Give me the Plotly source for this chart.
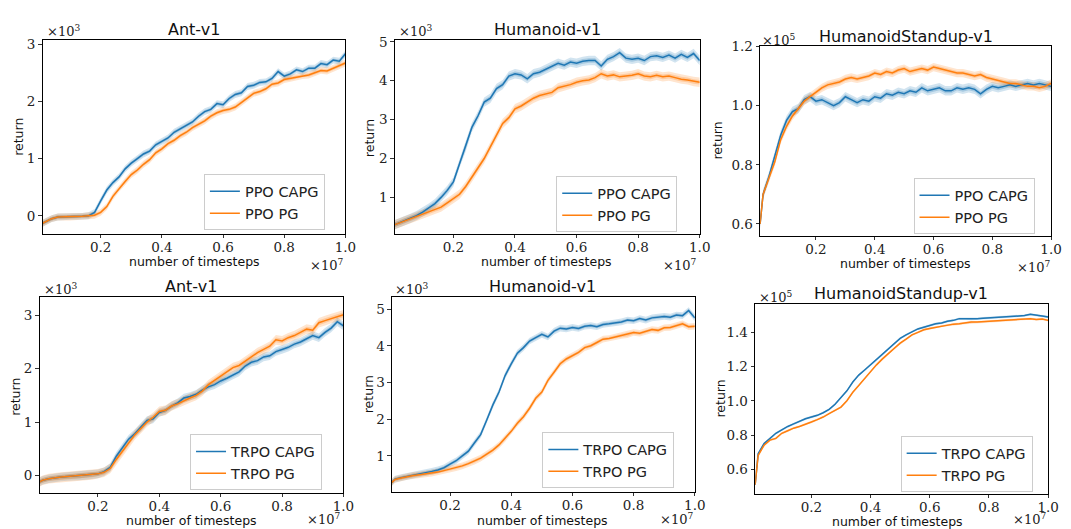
import plotly.graph_objects as go

W, H = 1071, 529

# ---------------- data (timesteps in units of 1e7) ----------------
X = [0.01, 0.02, 0.04, 0.06, 0.08, 0.10, 0.12, 0.14, 0.16, 0.18,
     0.20, 0.22, 0.24, 0.26, 0.28, 0.30, 0.32, 0.34, 0.36, 0.38,
     0.40, 0.42, 0.44, 0.46, 0.48, 0.50, 0.52, 0.54, 0.56, 0.58,
     0.60, 0.62, 0.64, 0.66, 0.68, 0.70, 0.72, 0.74, 0.76, 0.78,
     0.80, 0.82, 0.84, 0.86, 0.88, 0.90, 0.92, 0.94, 0.96, 0.98, 1.00]

# Ant-v1 PPO (x1e3)
ant_ppo_capg = [-0.13, -0.10, -0.05, -0.02, -0.02, -0.01, -0.01, -0.01, 0.00, 0.06,
                0.26, 0.45, 0.58, 0.68, 0.82, 0.92, 1.00, 1.08, 1.13, 1.24,
                1.30, 1.36, 1.46, 1.52, 1.58, 1.64, 1.74, 1.82, 1.86, 1.96,
                1.94, 2.05, 2.12, 2.15, 2.26, 2.28, 2.33, 2.34, 2.40, 2.52,
                2.44, 2.48, 2.55, 2.52, 2.58, 2.58, 2.66, 2.64, 2.72, 2.70, 2.83]
ant_ppo_pg = [-0.13, -0.10, -0.05, -0.02, -0.02, -0.02, -0.01, -0.01, 0.00, 0.01,
              0.06, 0.16, 0.34, 0.48, 0.60, 0.72, 0.80, 0.90, 0.98, 1.10,
              1.17, 1.26, 1.32, 1.40, 1.46, 1.54, 1.60, 1.66, 1.74, 1.80,
              1.84, 1.86, 1.90, 1.98, 2.06, 2.14, 2.17, 2.22, 2.30, 2.32,
              2.38, 2.40, 2.42, 2.45, 2.46, 2.50, 2.54, 2.53, 2.58, 2.62, 2.67]

# Humanoid-v1 PPO (x1e3)
hum_ppo_capg = [0.30, 0.33, 0.40, 0.46, 0.53, 0.62, 0.72, 0.84, 1.00, 1.18,
                1.40, 1.88, 2.30, 2.80, 3.10, 3.45, 3.55, 3.80, 3.90, 4.12,
                4.18, 4.15, 4.05, 4.18, 4.22, 4.30, 4.38, 4.45, 4.40, 4.48,
                4.45, 4.50, 4.52, 4.52, 4.38, 4.55, 4.62, 4.72, 4.58, 4.55,
                4.58, 4.52, 4.62, 4.64, 4.60, 4.66, 4.58, 4.68, 4.60, 4.70, 4.52]
hum_ppo_pg = [0.30, 0.33, 0.38, 0.44, 0.50, 0.57, 0.63, 0.69, 0.75, 0.86,
              0.97, 1.08, 1.28, 1.52, 1.76, 2.00, 2.30, 2.60, 2.90, 3.05,
              3.28, 3.35, 3.45, 3.55, 3.62, 3.66, 3.70, 3.82, 3.86, 3.90,
              3.96, 4.00, 4.02, 4.08, 4.18, 4.12, 4.15, 4.10, 4.12, 4.14,
              4.18, 4.12, 4.10, 4.14, 4.10, 4.12, 4.08, 4.04, 4.02, 3.98, 3.96]

# HumanoidStandup-v1 PPO (x1e5)
hs_ppo_capg = [0.60, 0.70, 0.76, 0.83, 0.90, 0.95, 0.98, 0.99, 1.02, 1.03,
               1.015, 1.02, 1.01, 1.00, 1.01, 1.03, 1.02, 1.01, 1.02, 1.015,
               1.03, 1.025, 1.04, 1.035, 1.045, 1.04, 1.05, 1.045, 1.06, 1.05,
               1.055, 1.06, 1.05, 1.05, 1.06, 1.055, 1.06, 1.055, 1.04, 1.055,
               1.065, 1.06, 1.065, 1.07, 1.065, 1.07, 1.075, 1.07, 1.075, 1.07, 1.065]
hs_ppo_pg = [0.60, 0.70, 0.755, 0.81, 0.885, 0.93, 0.965, 0.99, 1.015, 1.03,
             1.045, 1.06, 1.07, 1.075, 1.08, 1.09, 1.095, 1.09, 1.095, 1.10,
             1.11, 1.105, 1.115, 1.11, 1.12, 1.125, 1.115, 1.12, 1.125, 1.12,
             1.13, 1.125, 1.12, 1.115, 1.11, 1.11, 1.105, 1.10, 1.105, 1.095,
             1.09, 1.085, 1.08, 1.075, 1.075, 1.07, 1.065, 1.065, 1.06, 1.065, 1.075]

# Ant-v1 TRPO (x1e3)
ant_trpo_capg = [-0.12, -0.09, -0.06, -0.04, -0.03, -0.02, -0.01, -0.01, 0.00, 0.01,
                 0.03, 0.07, 0.15, 0.36, 0.52, 0.68, 0.78, 0.90, 1.03, 1.06,
                 1.18, 1.22, 1.30, 1.36, 1.45, 1.48, 1.52, 1.60, 1.66, 1.70,
                 1.77, 1.82, 1.88, 1.94, 2.05, 2.12, 2.15, 2.22, 2.24, 2.32,
                 2.36, 2.40, 2.46, 2.50, 2.56, 2.62, 2.58, 2.68, 2.76, 2.88, 2.80]
ant_trpo_pg = [-0.12, -0.09, -0.06, -0.04, -0.03, -0.02, -0.01, -0.01, 0.00, 0.01,
               0.03, 0.06, 0.13, 0.30, 0.45, 0.60, 0.76, 0.88, 1.00, 1.09,
               1.20, 1.22, 1.30, 1.34, 1.40, 1.45, 1.50, 1.58, 1.70, 1.78,
               1.86, 1.95, 2.02, 2.06, 2.14, 2.22, 2.30, 2.36, 2.42, 2.54,
               2.52, 2.58, 2.62, 2.68, 2.74, 2.72, 2.86, 2.90, 2.94, 2.98, 3.01]

# Humanoid-v1 TRPO (x1e3)
hum_trpo_capg = [0.28, 0.37, 0.41, 0.44, 0.48, 0.51, 0.54, 0.58, 0.62, 0.68,
                 0.78, 0.87, 1.00, 1.13, 1.36, 1.58, 1.98, 2.39, 2.74, 3.19,
                 3.51, 3.80, 3.95, 4.13, 4.22, 4.31, 4.24, 4.40, 4.48, 4.46,
                 4.50, 4.47, 4.53, 4.55, 4.52, 4.58, 4.60, 4.62, 4.65, 4.70,
                 4.68, 4.74, 4.70, 4.76, 4.78, 4.80, 4.78, 4.84, 4.82, 4.96, 4.76]
hum_trpo_pg = [0.28, 0.36, 0.40, 0.44, 0.47, 0.49, 0.51, 0.53, 0.56, 0.60,
               0.64, 0.68, 0.73, 0.79, 0.86, 0.94, 1.05, 1.16, 1.30, 1.48,
               1.67, 1.89, 2.07, 2.30, 2.57, 2.74, 3.06, 3.28, 3.51, 3.64,
               3.73, 3.82, 3.95, 4.00, 4.09, 4.18, 4.20, 4.24, 4.28, 4.30,
               4.36, 4.34, 4.40, 4.44, 4.42, 4.49, 4.50, 4.54, 4.60, 4.52, 4.53]

# HumanoidStandup-v1 TRPO (x1e5)
hs_trpo_capg = [0.51, 0.69, 0.75, 0.78, 0.81, 0.83, 0.85, 0.865, 0.88, 0.895,
                0.905, 0.915, 0.93, 0.95, 0.98, 1.02, 1.058, 1.11, 1.15, 1.18,
                1.21, 1.24, 1.27, 1.30, 1.335, 1.365, 1.385, 1.405, 1.42, 1.43,
                1.44, 1.45, 1.455, 1.465, 1.47, 1.48, 1.48, 1.478, 1.48, 1.482,
                1.484, 1.485, 1.49, 1.49, 1.492, 1.496, 1.498, 1.505, 1.502, 1.495, 1.49]
hs_trpo_pg = [0.51, 0.68, 0.74, 0.77, 0.78, 0.81, 0.825, 0.84, 0.85, 0.865,
              0.876, 0.89, 0.905, 0.925, 0.945, 0.963, 1.00, 1.05, 1.09, 1.13,
              1.174, 1.21, 1.245, 1.275, 1.31, 1.337, 1.36, 1.385, 1.40, 1.415,
              1.423, 1.43, 1.438, 1.442, 1.448, 1.45, 1.455, 1.46, 1.46, 1.462,
              1.465, 1.467, 1.47, 1.472, 1.474, 1.475, 1.478, 1.48, 1.475, 1.478, 1.47]

# shaded spread (half width) per series
SPREAD = {
    "ant_ppo": (0.06, 0.06), "hum_ppo": (0.12, 0.12), "hs_ppo": (0.016, 0.014),
    "ant_trpo": (0.08, 0.09), "hum_trpo": (0.09, 0.09), "hs_trpo": (0.007, 0.007),
}

TITLES = ["Ant-v1", "Humanoid-v1", "HumanoidStandup-v1",
          "Ant-v1", "Humanoid-v1", "HumanoidStandup-v1"]
X_TICKS = [0.2, 0.4, 0.6, 0.8, 1.0]

# ---------------- layout helpers ----------------
def px(x):
    return x / W

def py(y):
    return 1 - y / H

BLUE = "#1f77b4"
ORANGE = "#ff7f0e"
BLUE_RGB = "31,119,180"
ORANGE_RGB = "255,127,14"
TICK_FONT = dict(family="DejaVu Serif", size=13.5, color="#222222")
SANS = "DejaVu Sans"

panels = [
    dict(key="ant_ppo", capg=ant_ppo_capg, pg=ant_ppo_pg, algo="PPO",
         box=(43, 32, 349, 229), yr=[-0.31, 3.08], yt=[0, 1, 2, 3], yf="d", exp="3",
         title_xy=(196, 22), ylab_xy=(18, 131), xlab_xy=(197, 257),
         yexp_xy=(45, 23), xexp_xy=(349, 261), leg_xy=(206, 169)),
    dict(key="hum_ppo", capg=hum_ppo_capg, pg=hum_ppo_pg, algo="PPO",
         box=(399, 32, 707, 229), yr=[0.07, 5.06], yt=[1, 2, 3, 4, 5], yf="d", exp="3",
         title_xy=(553, 22), ylab_xy=(373, 132), xlab_xy=(552, 257),
         yexp_xy=(401, 23), xexp_xy=(705, 261), leg_xy=(562, 171)),
    dict(key="hs_ppo", capg=hs_ppo_capg, pg=hs_ppo_pg, algo="PPO",
         box=(768, 39, 1062, 231), yr=[0.561, 1.2], yt=[0.6, 0.8, 1.0, 1.2], yf=".1f", exp="5",
         title_xy=(915, 29), ylab_xy=(725, 135), xlab_xy=(915, 259),
         yexp_xy=(768, 32), xexp_xy=(1063, 263), leg_xy=(923, 173)),
    dict(key="ant_trpo", capg=ant_trpo_capg, pg=ant_trpo_pg, algo="TRPO",
         box=(40, 293, 347, 492), yr=[-0.32, 3.35], yt=[0, 1, 2, 3], yf="d", exp="3",
         title_xy=(193, 283), ylab_xy=(15, 395), xlab_xy=(193, 520),
         yexp_xy=(42, 285), xexp_xy=(346, 529), leg_xy=(192, 433)),
    dict(key="hum_trpo", capg=hum_trpo_capg, pg=hum_trpo_pg, algo="TRPO",
         box=(396, 293, 702, 491), yr=[0.03, 5.34], yt=[1, 2, 3, 4, 5], yf="d", exp="3",
         title_xy=(548, 283), ylab_xy=(372, 392), xlab_xy=(548, 520),
         yexp_xy=(397, 285), xexp_xy=(702, 529), leg_xy=(548, 431)),
    dict(key="hs_trpo", capg=hs_trpo_capg, pg=hs_trpo_pg, algo="TRPO",
         box=(763, 301, 1059, 493), yr=[0.458, 1.563], yt=[0.6, 0.8, 1.0, 1.2, 1.4], yf=".1f", exp="5",
         title_xy=(910, 290), ylab_xy=(728, 397), xlab_xy=(907, 521),
         yexp_xy=(765, 293), xexp_xy=(1059, 529), leg_xy=(910, 435)),
]

fig = go.Figure()
layout = {}
annotations = []


def band(xs, ys, s, rgb, alpha, xa, ya):
    upper = [v + s for v in ys]
    lower = [v - s for v in ys]
    return go.Scatter(x=xs + xs[::-1], y=upper + lower[::-1], fill="toself",
                      fillcolor=f"rgba({rgb},{alpha})", line=dict(width=0),
                      mode="lines", hoverinfo="skip", showlegend=False,
                      xaxis=xa, yaxis=ya)


for i, p in enumerate(panels):
    n = i + 1
    xa = "x" if n == 1 else f"x{n}"
    ya = "y" if n == 1 else f"y{n}"
    xkey = "xaxis" if n == 1 else f"xaxis{n}"
    ykey = "yaxis" if n == 1 else f"yaxis{n}"
    lkey = "legend" if n == 1 else f"legend{n}"
    s_capg, s_pg = SPREAD[p["key"]]

    for ys, s, rgb in ((p["capg"], s_capg, BLUE_RGB), (p["pg"], s_pg, ORANGE_RGB)):
        fig.add_trace(band(X, ys, s, rgb, 0.2, xa, ya))
        fig.add_trace(band(X, ys, s * 0.5, rgb, 0.25, xa, ya))

    fig.add_trace(go.Scatter(x=X, y=p["capg"], mode="lines", name=f"{p['algo']} CAPG",
                             line=dict(color=BLUE, width=1.5), xaxis=xa, yaxis=ya,
                             legend=lkey))
    fig.add_trace(go.Scatter(x=X, y=p["pg"], mode="lines", name=f"{p['algo']} PG",
                             line=dict(color=ORANGE, width=1.5), xaxis=xa, yaxis=ya,
                             legend=lkey))

    x0, y0, x1, y1 = p["box"]
    axis_common = dict(showline=True, mirror=True, linecolor="black", linewidth=1,
                       showgrid=False, zeroline=False, ticks="outside", ticklen=3.5,
                       tickwidth=0.8, tickcolor="black", tickfont=TICK_FONT)
    layout[xkey] = dict(domain=[px(x0), px(x1)], anchor=ya, range=[0.01, 1.0],
                        tickvals=X_TICKS, tickformat=".1f", ticklabelstandoff=-2,
                        **axis_common)
    layout[ykey] = dict(domain=[py(y1), py(y0)], anchor=xa, range=p["yr"],
                        tickvals=p["yt"], tickformat=p["yf"], **axis_common)

    lx, ly = p["leg_xy"]
    layout[lkey] = dict(x=px(lx), y=py(ly), xanchor="left", yanchor="top",
                        bgcolor="rgba(255,255,255,0.8)", bordercolor="#cccccc",
                        borderwidth=1, font=dict(family=SANS, size=14.5, color="#222222"),
                        itemwidth=30, tracegroupgap=0)

    tx, ty = p["title_xy"]
    annotations.append(dict(text=TITLES[i], x=px(tx), y=py(ty), xref="paper", yref="paper",
                            showarrow=False, xanchor="center", yanchor="middle",
                            font=dict(family=SANS, size=16, color="#111111")))
    rx, ry = p["ylab_xy"]
    annotations.append(dict(text="return", x=px(rx), y=py(ry), xref="paper", yref="paper",
                            showarrow=False, xanchor="center", yanchor="middle", textangle=-90,
                            font=dict(family=SANS, size=12.5, color="#111111")))
    bx, by = p["xlab_xy"]
    annotations.append(dict(text="number of timesteps", x=px(bx), y=py(by), xref="paper",
                            yref="paper", showarrow=False, xanchor="center", yanchor="middle",
                            font=dict(family=SANS, size=12.5, color="#111111")))
    ex, ey = p["yexp_xy"]
    annotations.append(dict(text=f"×10<sup>{p['exp']}</sup>", x=px(ex), y=py(ey), xref="paper",
                            yref="paper", showarrow=False, xanchor="left", yanchor="middle",
                            font=dict(family="DejaVu Serif", size=13, color="#222222")))
    fx, fy = p["xexp_xy"]
    annotations.append(dict(text="×10<sup>7</sup>", x=px(fx), y=py(fy), xref="paper",
                            yref="paper", showarrow=False, xanchor="right",
                            yanchor="bottom" if fy >= H else "middle",
                            font=dict(family="DejaVu Serif", size=13, color="#222222")))

fig.update_layout(width=W, height=H, margin=dict(l=0, r=0, t=0, b=0),
                  paper_bgcolor="white", plot_bgcolor="white",
                  annotations=annotations, **layout)

PAGE_CSS = ("document.documentElement.style.margin='0';"
            "document.documentElement.style.padding='0';"
            "document.documentElement.style.overflow='hidden';"
            "document.body.style.margin='0';"
            "document.body.style.padding='0';"
            "document.body.style.overflow='hidden';")

fig.write_html("out.html", post_script=PAGE_CSS,
               config={"displayModeBar": False, "staticPlot": True})
